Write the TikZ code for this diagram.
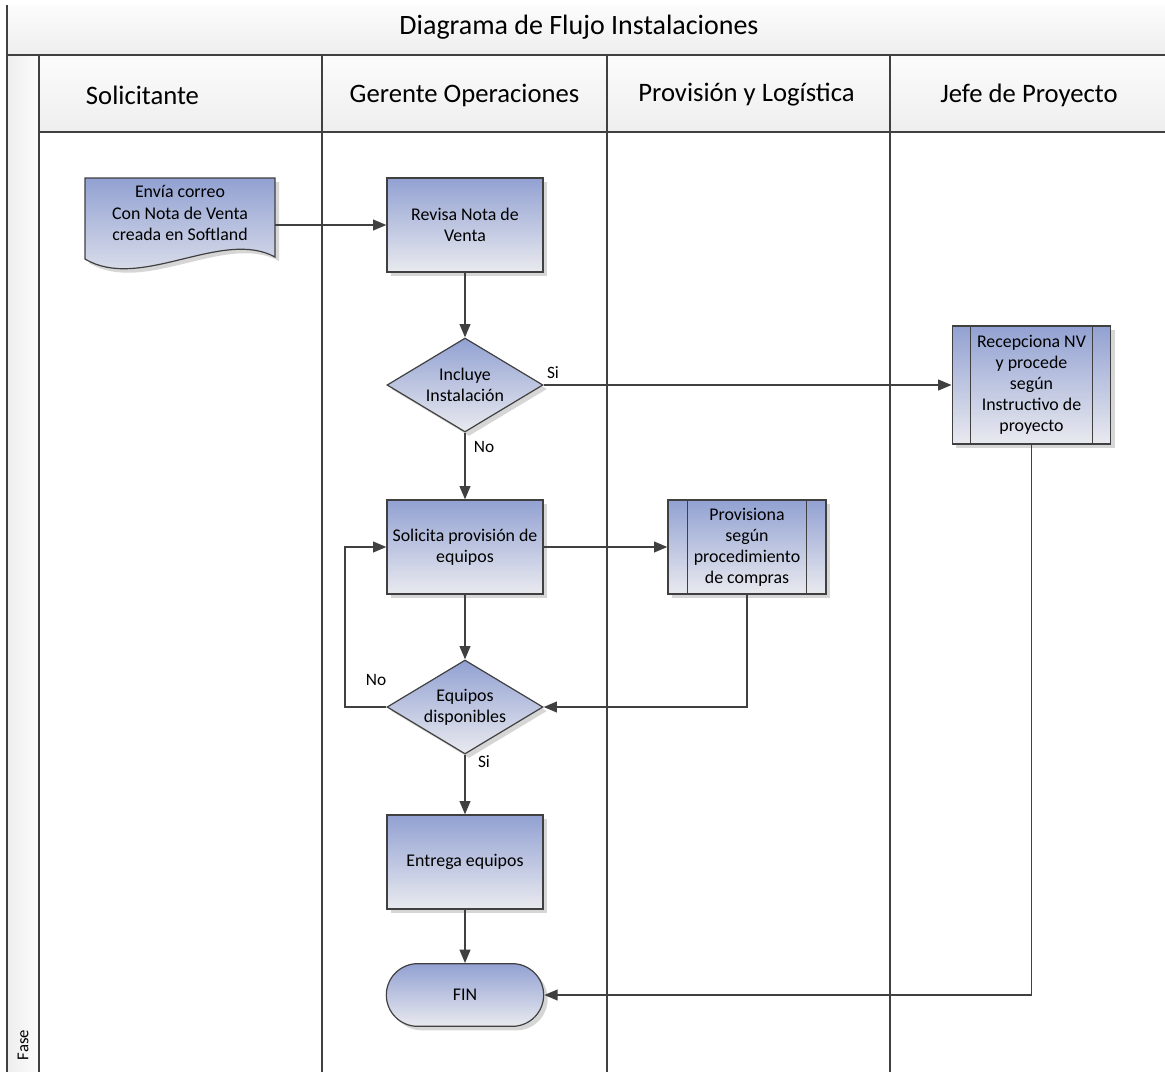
\documentclass[tikz,border=0pt]{standalone}
\usepackage{fontspec}
\setmainfont{Carlito}
\usetikzlibrary{shapes.geometric,shadows,arrows.meta}
\definecolor{lc}{RGB}{64,64,64}
\definecolor{topc}{RGB}{146,161,210}
\definecolor{botc}{RGB}{233,234,239}
\definecolor{hdtop}{RGB}{252,252,252}
\definecolor{hdbot}{RGB}{238,238,238}
\newcommand{\myNodeFont}{\fontsize{13.4}{15.8}\selectfont}
\newcommand{\myHeadFont}{\fontsize{20}{24}\selectfont}
\newcommand{\myTitleFont}{\fontsize{21}{25}\selectfont}
\newcommand{\myLblFont}{\fontsize{13}{15}\selectfont}
\begin{document}
\begin{tikzpicture}[x=0.75pt,y=-0.75pt,
  border/.style={draw=lc, line width=1pt},
  shd/.style={drop shadow={shadow xshift=3pt,shadow yshift=-3pt,fill=black!16,opacity=1}},
  filled/.style={draw=lc, line width=0.9pt, top color=topc, bottom color=botc, shd},
  proc/.style={rectangle, filled, minimum width=117pt, minimum height=70.5pt, align=center, font=\myNodeFont, inner sep=2pt},
  subproc/.style={proc},
  decision/.style={diamond, filled, aspect=1.66, minimum width=117pt, minimum height=70.5pt, inner sep=0pt, align=center, font=\myNodeFont},
  terminal/.style={rectangle, rounded corners=23.5pt, filled, minimum width=118pt, minimum height=47pt, align=center, font=\myNodeFont},
  doctext/.style={rectangle, minimum width=142.5pt, minimum height=60pt, align=center, font=\myNodeFont, inner sep=0pt},
  arr/.style={draw=lc, line width=1.4pt, -{Triangle[length=10pt,width=8pt]}},
  lbl/.style={font=\myLblFont, text=black, inner sep=1pt},
  headtxt/.style={font=\myHeadFont, text=black}
]
\useasboundingbox (0,0) rectangle (1165,1072);
\fill[white] (0,0) rectangle (1165,1072);

% title band
\path[top color=hdtop, bottom color=hdbot] (7,5) rectangle (1165,55);
\node[font=\myTitleFont] (title) at (579,27) {Diagrama de Flujo Instalaciones};

% phase column
\path[left color=hdbot, right color=hdtop] (7,55) rectangle (39,1072);
\node[font=\fontsize{12.5}{14}\selectfont, rotate=90] (fase) at (23,1045) {Fase};

% lane headers
\path[top color=hdtop, bottom color=hdbot] (39,55) rectangle (1165,132);
\node[headtxt] (h1) at (142.5,95) {Solicitante};
\node[headtxt] (h2) at (464.5,95) {Gerente Operaciones};
\node[headtxt] (h3) at (746.5,95) {Provisión y Logística};
\node[headtxt] (h4) at (1029,95) {Jefe de Proyecto};

% frame lines
\draw[border] (7,5) -- (7,1072);
\draw[border] (7,55) -- (1165,55);
\draw[border] (39,132) -- (1165,132);
\draw[border] (39,55) -- (39,1072);
\draw[border] (322,55) -- (322,1072);
\draw[border] (607,55) -- (607,1072);
\draw[border] (890,55) -- (890,1072);

% document shape
\path[filled] (85,178) -- (275,178) -- (275,257) .. controls (222,228) and (140,292) .. (85,259) -- cycle;
\node[doctext] (doc) at (180,213) {Envía correo\\Con Nota de Venta\\creada en Softland};

% nodes
\node[proc] (rev) at (465,225) {Revisa Nota de\\Venta};
\node[decision] (inc) at (465,385) {Incluye\\Instalación};
\node[subproc, minimum width=119pt, minimum height=88.5pt] (rec) at (1031.5,385) {Recepciona NV\\y procede\\según\\Instructivo de\\proyecto};
\draw[draw=lc, line width=0.8pt] ([xshift=14.25pt]rec.north west) -- ([xshift=14.25pt]rec.south west);
\draw[draw=lc, line width=0.8pt] ([xshift=-14.25pt]rec.north east) -- ([xshift=-14.25pt]rec.south east);
\node[proc] (sol) at (465,547) {Solicita provisión de\\equipos};
\node[subproc, minimum width=118.5pt] (prov) at (747,547) {Provisiona\\según\\procedimiento\\de compras};
\draw[draw=lc, line width=0.8pt] ([xshift=15pt]prov.north west) -- ([xshift=15pt]prov.south west);
\draw[draw=lc, line width=0.8pt] ([xshift=-15pt]prov.north east) -- ([xshift=-15pt]prov.south east);
\node[decision] (eq) at (465,707) {Equipos\\disponibles};
\node[proc] (ent) at (465,862) {Entrega equipos};
\node[terminal] (fin) at (465,995) {FIN};

% connectors
\coordinate (loopx) at (345,547);
\draw[arr] (rev.west -| doc.east) -- (rev.west);
\draw[arr] (rev) -- (inc);
\draw[arr] (inc.east) -- (rec.west);
\draw[arr] (inc) -- (sol);
\draw[arr] (sol.east) -- (prov.west);
\draw[arr] (sol) -- (eq);
\draw[arr] (prov.south) |- (eq.east);
\draw[arr] (eq.west) -- (eq.west -| loopx) -- (loopx) -- (sol.west);
\draw[arr] (eq) -- (ent);
\draw[arr] (ent) -- (fin);
\draw[arr] (rec.south) |- (fin.east);

% labels
\node[lbl] (si1) at (553,373) {Si};
\node[lbl] (no1) at (484,447) {No};
\node[lbl] (no2) at (376,680) {No};
\node[lbl] (si2) at (484,762) {Si};
\end{tikzpicture}
\end{document}
